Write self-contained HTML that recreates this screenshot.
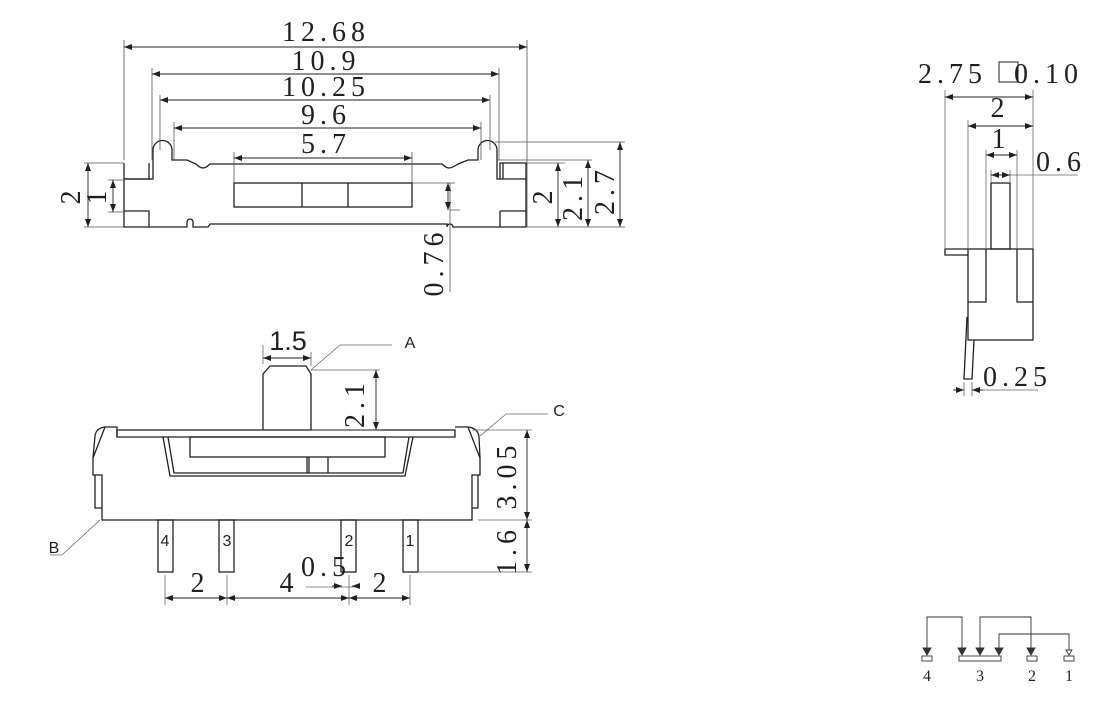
<!DOCTYPE html>
<html><head><meta charset="utf-8"><style>
html,body{margin:0;padding:0;background:#fff;}
svg{display:block}
.s{font-family:"Liberation Serif","DejaVu Serif",serif;fill:#231f20}
.a{font-family:"Liberation Sans",sans-serif;fill:#231f20}
</style></head><body>
<svg width="1120" height="722" viewBox="0 0 1120 722" xmlns="http://www.w3.org/2000/svg">
<defs>
<marker id="ar" markerWidth="8" markerHeight="6" refX="8" refY="3" orient="auto-start-reverse" markerUnits="userSpaceOnUse"><path d="M0,0 L8,3 L0,6z" fill="#231f20"/></marker>
</defs>
<g stroke="#231f20" fill="none" stroke-width="1.3">
<!-- TOP VIEW body -->
<path d="M124,163 V227 H187 V222 A3,3 0 0 1 193,222 V227 H208 L210,224 H447 V227 A3,3 0 0 1 453,227 H526 V163 H500 V179 H497 V150 A9.5,9.5 0 0 0 478,150 V160 H468 L458,164 Q452,168 449,168 Q446,168 442,164 L210,164 Q206,168 203,168 Q200,168 196,164 L187,160 H172 V150 A9.5,9.5 0 0 0 153,150 V179 H124"/>
<path d="M124,179 H152 M149,163 V179 M124,211 H149 V227 M500,179 H526 M503,163 V179 M500,211 H526 M500,211 V227"/>
<rect x="234" y="183" width="178" height="24"/>
<path d="M302,183 V207 M348,183 V207"/>
</g>
<g stroke="#555" fill="none" stroke-width="0.8">
<path d="M124,40 V160 M527,40 V227 M152,68 V160 M499,68 V160 M160,95 V150 M490,95 V150 M174,122 V160 M481,122 V160 M234,152 V183 M412,152 V183"/>
<path d="M84,163 H124 M84,227 H124 M108,180 H124 M108,212 H124"/>
<path d="M527,163 H565 M527,227 H625 M495,142 H625 M497,160 H592 M412,183 H455 M450,210 H460 M450,183 V292"/>
</g>
<g stroke="#231f20" stroke-width="0.9" fill="none">
<line x1="124" y1="47" x2="527" y2="47" marker-start="url(#ar)" marker-end="url(#ar)"/>
<line x1="152" y1="74" x2="499" y2="74" marker-start="url(#ar)" marker-end="url(#ar)"/>
<line x1="160" y1="100" x2="490" y2="100" marker-start="url(#ar)" marker-end="url(#ar)"/>
<line x1="174" y1="128" x2="481" y2="128" marker-start="url(#ar)" marker-end="url(#ar)"/>
<line x1="234" y1="158" x2="412" y2="158" marker-start="url(#ar)" marker-end="url(#ar)"/>
<line x1="88" y1="163" x2="88" y2="227" marker-start="url(#ar)" marker-end="url(#ar)"/>
<line x1="113" y1="180" x2="113" y2="212" marker-start="url(#ar)" marker-end="url(#ar)"/>
<line x1="558" y1="163" x2="558" y2="227" marker-start="url(#ar)" marker-end="url(#ar)"/>
<line x1="588" y1="160" x2="588" y2="227" marker-start="url(#ar)" marker-end="url(#ar)"/>
<line x1="620" y1="142" x2="620" y2="227" marker-start="url(#ar)" marker-end="url(#ar)"/>
<line x1="448" y1="183" x2="448" y2="210" marker-start="url(#ar)" marker-end="url(#ar)"/>
</g>
<g class="s" font-size="28" text-anchor="middle" letter-spacing="5">
<text x="326" y="41">12.68</text>
<text x="326" y="70">10.9</text>
<text x="326" y="96">10.25</text>
<text x="326" y="124">9.6</text>
<text x="326" y="153">5.7</text>
<text transform="translate(80,195) rotate(-90)">2</text>
<text transform="translate(106,195) rotate(-90)">1</text>
<text transform="translate(552,195) rotate(-90)">2</text>
<text transform="translate(582,196) rotate(-90)">2.1</text>
<text transform="translate(614,190) rotate(-90)">2.7</text>
<text transform="translate(443,262) rotate(-90)">0.76</text>
</g>

<!-- FRONT VIEW -->
<g stroke="#231f20" fill="none" stroke-width="1.3">
<path d="M263,430 V374 L270,366 H306 L311,374 V430"/>
<path d="M117,430 H455 V437 H117 Z"/>
<path d="M117,437 V427 H105 L93,458 V475 H102 V520 H472 V475 H480 V458 L468,427 H455"/>
<path d="M105,427 Q96,428 95,436 L93,458 M468,427 Q478,428 479,437 L480,458"/>
<path d="M95,475 V508 H102 M478,475 V508 H472"/>
<path d="M163,437 L170,476 H405 L413,437"/>
<path d="M168,437 L174,473 H403 L409,437"/>
<rect x="190" y="437" width="195" height="20"/>
<path d="M307,457 V473 M309,457 V473 M328,457 V473"/>
<rect x="158" y="520" width="15" height="52"/>
<rect x="219" y="520" width="15" height="52"/>
<rect x="341" y="520" width="15" height="52"/>
<rect x="403" y="520" width="15" height="52"/>
</g>
<g stroke="#666" fill="none" stroke-width="0.8">
<path d="M311,370 L340,345 H392"/>
<path d="M480,436 L506,414 H548"/>
<path d="M100,520 L62,555 H50"/>
<path d="M263,345 V364 M311,352 V366 M311,370 H380 M311,430 H380"/>
<path d="M472,430 H532 M478,520 H532 M418,572 H532"/>
<path d="M165,575 V605 M227,575 V605 M349,575 V605 M349,585 V605 M410,575 V605 M306,587 H360"/>
</g>
<g stroke="#231f20" stroke-width="0.9" fill="none">
<line x1="263" y1="358" x2="311" y2="358" marker-start="url(#ar)" marker-end="url(#ar)"/>
<line x1="376" y1="370" x2="376" y2="430" marker-start="url(#ar)" marker-end="url(#ar)"/>
<line x1="527" y1="430" x2="527" y2="520" marker-start="url(#ar)" marker-end="url(#ar)"/>
<line x1="527" y1="520" x2="527" y2="572" marker-start="url(#ar)" marker-end="url(#ar)"/>
<line x1="165" y1="598" x2="227" y2="598" marker-start="url(#ar)" marker-end="url(#ar)"/>
<line x1="227" y1="598" x2="349" y2="598" marker-start="url(#ar)" marker-end="url(#ar)"/>
<line x1="349" y1="598" x2="410" y2="598" marker-start="url(#ar)" marker-end="url(#ar)"/>
<line x1="332" y1="586" x2="342" y2="586" marker-end="url(#ar)"/>
<line x1="360" y1="586" x2="352" y2="586" marker-end="url(#ar)"/>
</g>
<g class="a" font-size="27" text-anchor="middle"><text x="288" y="350">1.5</text></g>
<g class="a" font-size="16" text-anchor="middle">
<text x="410" y="348">A</text><text x="559" y="416">C</text><text x="54" y="553">B</text>
<text x="165" y="546">4</text><text x="227" y="546">3</text><text x="349" y="546">2</text><text x="410" y="546">1</text>
</g>
<g class="s" font-size="28" text-anchor="middle" letter-spacing="5">
<text transform="translate(364,403) rotate(-90)">2.1</text>
<text x="200" y="592">2</text><text x="289" y="592">4</text>
<text x="326" y="576">0.5</text><text x="382" y="592">2</text>
<text transform="translate(516,475) rotate(-90)">3.05</text>
<text transform="translate(516,550) rotate(-90)">1.6</text>
</g>

<!-- SIDE VIEW -->
<g stroke="#231f20" fill="none" stroke-width="1.3">
<rect x="991" y="183" width="19" height="66"/>
<rect x="968" y="249" width="65" height="91"/>
<path d="M986,249 V302 H968 M1017,249 V302 H1033"/>
<path d="M968,249 H945 V255 H968"/>
<path d="M967,317 L964,379 H972 L974,340"/>
<rect x="999" y="62" width="19" height="20" stroke-width="1"/>
</g>
<g stroke="#666" fill="none" stroke-width="0.8">
<path d="M945,90 V249 M1033,90 V249 M968,120 V249 M986,150 V249 M1017,150 V249 M991,170 V183 M1010,170 V183 M1010,175 H1078 M964,382 V396 M972,382 V396 M972,390 H1038"/>
</g>
<g stroke="#231f20" stroke-width="0.9" fill="none">
<line x1="945" y1="97" x2="1033" y2="97" marker-start="url(#ar)" marker-end="url(#ar)"/>
<line x1="968" y1="126" x2="1033" y2="126" marker-start="url(#ar)" marker-end="url(#ar)"/>
<line x1="986" y1="155" x2="1017" y2="155" marker-start="url(#ar)" marker-end="url(#ar)"/>
<line x1="991" y1="175" x2="1010" y2="175" marker-start="url(#ar)" marker-end="url(#ar)"/>
<line x1="953" y1="390" x2="964" y2="390" marker-end="url(#ar)"/>
<line x1="983" y1="390" x2="972" y2="390" marker-end="url(#ar)"/>
</g>
<g class="s" font-size="28" letter-spacing="5">
<text x="918" y="83">2.75</text><text x="1014" y="83">0.10</text>
<text x="1000" y="117" text-anchor="middle">2</text>
<text x="1001" y="148" text-anchor="middle">1</text>
<text x="1036" y="171">0.6</text>
<text x="983" y="386">0.25</text>
</g>

<!-- SCHEMATIC -->
<g stroke="#333" fill="none" stroke-width="0.9">
<rect x="922" y="656" width="10" height="5"/>
<rect x="959" y="656" width="42" height="5"/>
<rect x="1027" y="656" width="10" height="5"/>
<rect x="1064" y="656" width="10" height="5"/>
<path d="M927,652 V617 H962 V652"/>
<path d="M980,652 V617 H1031 V652"/>
<path d="M999,652 V634 H1069 V650"/>
<path d="M923,648 L927,655 L931,648Z M958,648 L962,655 L966,648Z M976,648 L980,655 L984,648Z M995,648 L999,655 L1003,648Z M1027,648 L1031,655 L1035,648Z" fill="#333"/>
<path d="M1066,650 L1069,655 L1072,650Z"/>
</g>
<g class="s" font-size="16" text-anchor="middle">
<text x="927" y="681">4</text><text x="980" y="681">3</text><text x="1032" y="681">2</text><text x="1069" y="681">1</text>
</g>
</svg>
</body></html>
